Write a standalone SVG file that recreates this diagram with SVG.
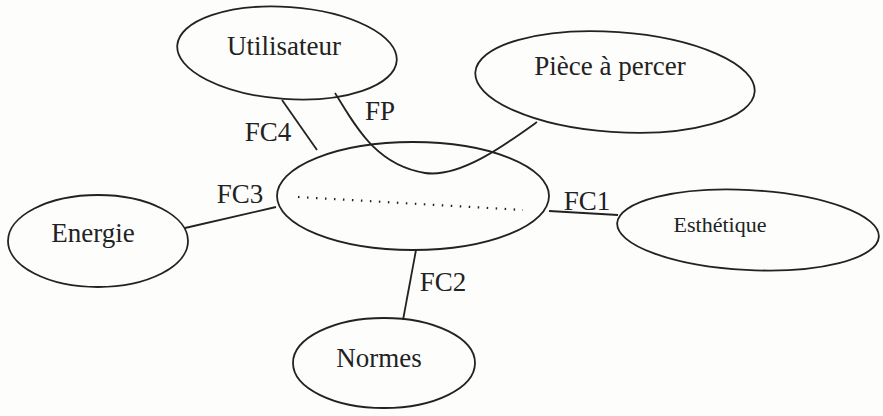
<svg xmlns="http://www.w3.org/2000/svg" width="883" height="416" viewBox="0 0 883 416">
<style>
.node ellipse{fill:none;stroke:#222;stroke-width:1.8}
text{font-family:"Liberation Serif","Times New Roman",serif;fill:#222;font-size:27px}
.lbl{text-anchor:middle}
.conn line,.conn path{fill:none;stroke:#222;stroke-width:1.8}
.small{font-size:22px}
</style>
<rect width="883" height="416" fill="#fdfdfc"/>
<g id="connectors" class="conn">
<line x1="282" y1="100" x2="317" y2="150"/>
<path d="M335,93 C355,125 375,165 425,173 C460,178 505,145 537,122"/>
<line x1="185" y1="228" x2="276" y2="207"/>
<line x1="416" y1="250" x2="403" y2="320"/>
<line x1="549" y1="211" x2="618" y2="215"/>
<text x="380" y="120" class="lbl">FP</text>
<text x="268" y="141" class="lbl">FC4</text>
<text x="240" y="203" class="lbl">FC3</text>
<text x="587" y="210" class="lbl">FC1</text>
<text x="443" y="291" class="lbl">FC2</text>
</g>
<g id="central" class="node">
<ellipse cx="413" cy="196" rx="136" ry="54"/>
<line x1="298" y1="197" x2="523" y2="210" stroke="#222" stroke-width="2.2" stroke-dasharray="1.5,7.5"/>
</g>
<g id="utilisateur" class="node">
<ellipse cx="287" cy="53" rx="110" ry="46" transform="rotate(4 287 53)"/>
<text x="284" y="55" class="lbl">Utilisateur</text>
</g>
<g id="piece" class="node">
<ellipse cx="615" cy="82" rx="140" ry="50" transform="rotate(4 615 82)"/>
<text x="610" y="75" class="lbl">Pièce à percer</text>
</g>
<g id="energie" class="node">
<ellipse cx="98" cy="241" rx="90" ry="46"/>
<text x="93" y="242" class="lbl">Energie</text>
</g>
<g id="normes" class="node">
<ellipse cx="384" cy="363" rx="91" ry="45"/>
<text x="379" y="367" class="lbl">Normes</text>
</g>
<g id="esthetique" class="node">
<ellipse cx="748" cy="230" rx="131" ry="40" transform="rotate(3 748 230)"/>
<text x="720" y="232" class="lbl small">Esthétique</text>
</g>
</svg>
